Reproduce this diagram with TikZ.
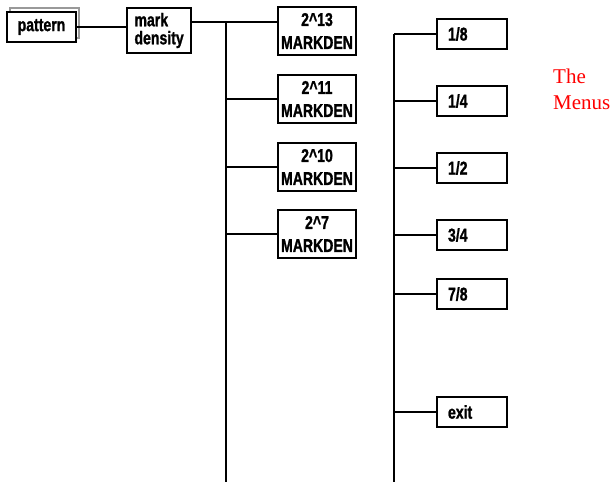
\documentclass[tikz,border=0pt]{standalone}
\usepackage{fontspec}
\setmainfont{Liberation Serif}
\newfontfamily\condsans[FakeStretch=0.76, BoldFeatures={FakeBold=1.2}]{Liberation Sans}
\usetikzlibrary{shadows}

\begin{document}
\begin{tikzpicture}[x=1pt,y=-1pt,
  box/.style={draw, fill=white, line width=1.9pt, inner sep=0pt,
    font=\condsans\bfseries\fontsize{18.5}{18}\selectfont},
  denbox/.style={box, minimum width=78pt, minimum height=48pt, align=center,
    font=\condsans\bfseries\fontsize{18.5}{23}\selectfont},
  leafbox/.style={box, text width=48pt, inner xsep=11pt, minimum height=30pt, align=left},
  wire/.style={line width=1.8pt},
  menus/.style={text=red, inner sep=0pt, align=left, font=\fontsize{21}{26}\selectfont}]
\useasboundingbox (0,0) rectangle (612,482);

% top of the tree
\node[box, minimum width=69pt, minimum height=30pt,
  general shadow={shadow xshift=3pt, shadow yshift=4pt, draw=black!40, fill=none, line width=1.6pt}]
  (pattern) at (41.5,27) {pattern};
\node[box, text width=49pt, inner xsep=7.5pt, minimum height=45pt, align=left]
  (markdens) at (159,30.5) {mark\\density};

% mark density menu
\foreach \n/\e/\y in {d13/13/31, d11/11/99, d10/10/167, d7/7/234}
  \node[denbox] (\n) at (317,\y) {2\textasciicircum\e\\MARKDEN};

% fraction menu
\foreach \n/\a/\b/\y in {f18/1/8/34, f14/1/4/101, f12/1/2/168, f34/3/4/235, f78/7/8/294}
  \node[leafbox] (\n) at (472,\y) {\a/\b};
\node[leafbox] (exit) at (472,412) {exit};

\node[menus, anchor=north west] (title) at (553,68.5) {The\\Menus};

% connectors
\coordinate (trunkL) at (226,22);
\coordinate (trunkLend) at (226,482);
\coordinate (trunkRend) at (394,482);
\draw[wire] (pattern.east) -- (pattern.east -| markdens.west);
\draw[wire] (markdens.east |- trunkL) -- (trunkL -| d13.west);
\draw[wire] (trunkL) -- (trunkLend);
\foreach \n in {d11,d10,d7}
  \draw[wire] (trunkL |- \n.west) -- (\n.west);
\draw[wire] (trunkRend |- f18.west) -- (trunkRend);
\foreach \n in {f18,f14,f12,f34,f78,exit}
  \draw[wire] (trunkRend |- \n.west) -- (\n.west);
\end{tikzpicture}
\end{document}
